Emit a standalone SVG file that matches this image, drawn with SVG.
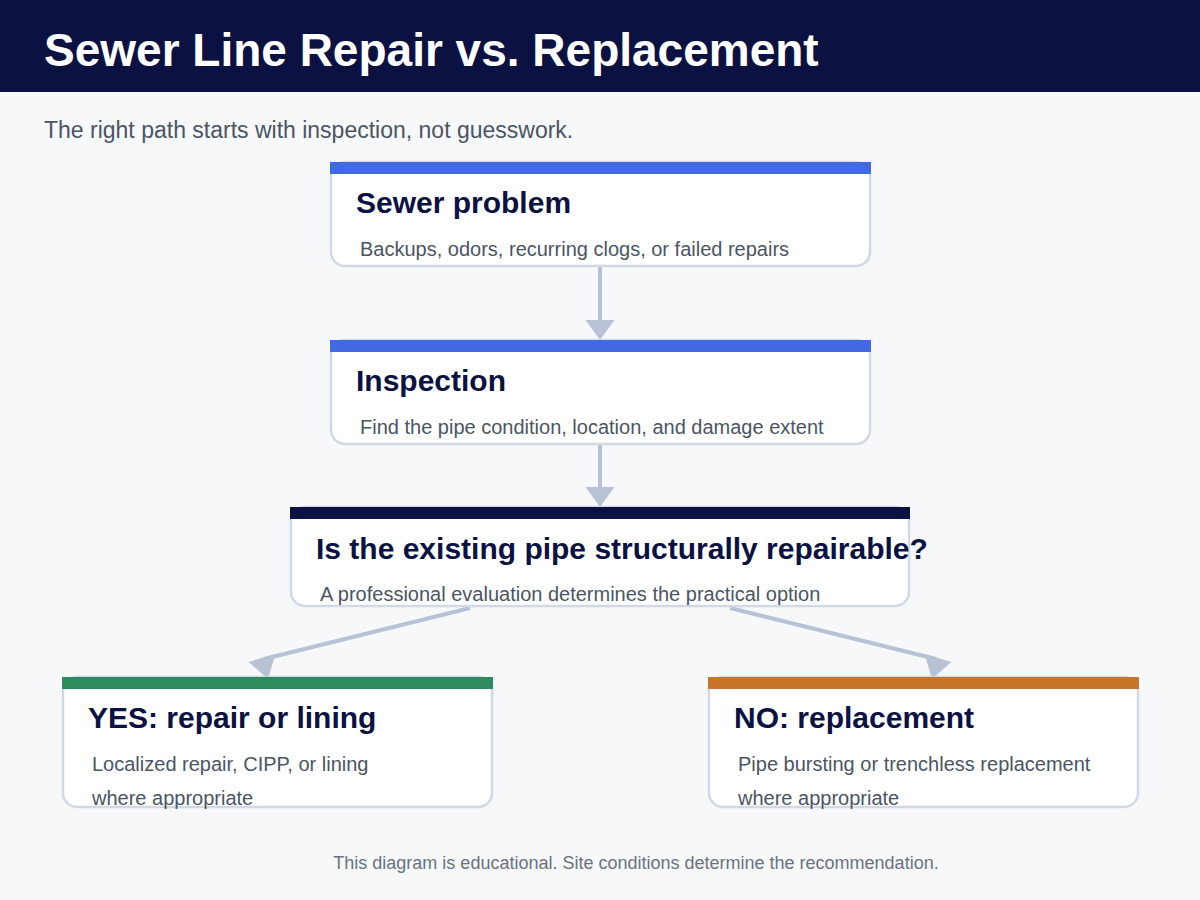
<svg xmlns="http://www.w3.org/2000/svg" width="1200" height="900" viewBox="0 0 1200 900">
<style>
.card{fill:#ffffff;stroke:#d3d9e4;stroke-width:2.5}
.ttl{font-family:"Liberation Sans",Arial,sans-serif;font-weight:bold;font-size:30px;fill:#0b1242}
.sub{font-family:"Liberation Sans",Arial,sans-serif;font-size:20px;fill:#4b5563}
.con{stroke:#b8c2d4;stroke-width:4;fill:none}
.head{fill:#b8c2d4}
</style>
<rect width="1200" height="900" fill="#f7f8fa"/>
<rect width="1200" height="92" fill="#0b1242"/>
<text x="44" y="66" font-family="Liberation Sans,Arial,sans-serif" font-weight="bold" font-size="46" fill="#ffffff">Sewer Line Repair vs. Replacement</text>
<text x="44" y="138" font-family="Liberation Sans,Arial,sans-serif" font-size="23" fill="#4b5563">The right path starts with inspection, not guesswork.</text>
<g id="connectors">
<line class="con" x1="600" y1="266" x2="600" y2="322"/>
<polygon class="head" points="585.5,320 614.5,320 600,340"/>
<line class="con" x1="600" y1="444" x2="600" y2="489"/>
<polygon class="head" points="585.5,487 614.5,487 600,507"/>
<line class="con" x1="470" y1="608" x2="264" y2="659"/>
<polygon class="head" points="248.5,662 275.5,654 268,679"/>
<line class="con" x1="730" y1="608" x2="936" y2="659"/>
<polygon class="head" points="951.5,662 924.5,654 932,679"/>
</g>
<g id="n1">
<rect class="card" x="331" y="162" width="539" height="104" rx="14"/>
<rect x="330" y="162" width="541" height="12" fill="#4169e1"/>
<text class="ttl" x="356" y="213">Sewer problem</text>
<text class="sub" x="360" y="256">Backups, odors, recurring clogs, or failed repairs</text>
</g>
<g id="n2">
<rect class="card" x="331" y="340" width="539" height="104" rx="14"/>
<rect x="330" y="340" width="541" height="12" fill="#4169e1"/>
<text class="ttl" x="356" y="391">Inspection</text>
<text class="sub" x="360" y="434">Find the pipe condition, location, and damage extent</text>
</g>
<g id="n3">
<rect class="card" x="291" y="507" width="618" height="99" rx="14"/>
<rect x="290" y="507" width="620" height="12" fill="#0b1242"/>
<text class="ttl" x="316" y="559">Is the existing pipe structurally repairable?</text>
<text class="sub" x="320" y="601">A professional evaluation determines the practical option</text>
</g>
<g id="n4">
<rect class="card" x="63" y="677" width="429" height="130" rx="14"/>
<rect x="62" y="677" width="431" height="12" fill="#2e8b5f"/>
<text class="ttl" x="88" y="728">YES: repair or lining</text>
<text class="sub" x="92" y="771">Localized repair, CIPP, or lining</text>
<text class="sub" x="92" y="805">where appropriate</text>
</g>
<g id="n5">
<rect class="card" x="709" y="677" width="429" height="130" rx="14"/>
<rect x="708" y="677" width="431" height="12" fill="#c8742a"/>
<text class="ttl" x="734" y="728">NO: replacement</text>
<text class="sub" x="738" y="771">Pipe bursting or trenchless replacement</text>
<text class="sub" x="738" y="805">where appropriate</text>
</g>
<text x="636" y="869" text-anchor="middle" font-family="Liberation Sans,Arial,sans-serif" font-size="18" fill="#6b7280">This diagram is educational. Site conditions determine the recommendation.</text>
</svg>
